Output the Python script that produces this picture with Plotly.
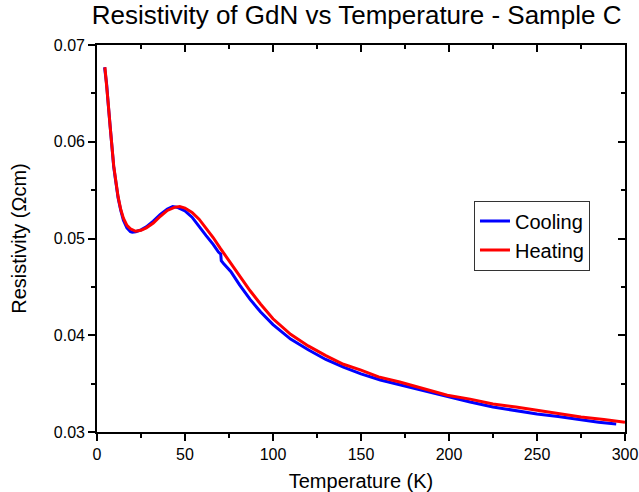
import plotly.graph_objects as go

# Cooling series (blue)
cool_T = [4.3, 5.5, 6.5, 7.5, 8.5, 9.5, 10.5, 12, 13.5, 15, 17, 19, 20, 22, 25, 28, 32, 36, 40, 43,
          46, 50, 54, 58, 62, 66, 69, 70.3, 70.6, 72, 76, 81, 87, 93, 100, 110, 120, 130, 140, 150,
          161, 172, 185, 199, 212, 225, 238, 250, 262, 275, 285, 295]
cool_R = [0.0677, 0.0659, 0.0636, 0.0613, 0.0590, 0.0574, 0.0561, 0.0542, 0.0529, 0.0519, 0.0511,
          0.0507, 0.05065, 0.0507, 0.0509, 0.0512, 0.0518, 0.0525, 0.05305, 0.0533,
          0.0532, 0.05285, 0.0522, 0.0512, 0.0503, 0.0494, 0.0486, 0.0484, 0.0477, 0.0474,
          0.0466, 0.0452, 0.0437, 0.0424, 0.0411, 0.0396, 0.0385, 0.0375, 0.0367, 0.0360,
          0.03537, 0.03488, 0.0343, 0.03362, 0.0331, 0.03258, 0.0322, 0.03187, 0.0316,
          0.03124, 0.0310, 0.03083]

# Heating series (red)
heat_T = [4.5, 5.5, 6.5, 7.5, 8.5, 9.5, 10.5, 12, 13.5, 15, 17, 19, 22, 25, 28, 32, 36, 40, 44, 47,
          50, 54, 58, 62, 66, 70, 75, 81, 87, 93, 100, 110, 120, 130, 140, 150, 160, 172, 185, 199,
          212, 225, 238, 250, 262, 275, 288, 300]
heat_R = [0.0677, 0.0660, 0.0637, 0.0615, 0.0591, 0.0575, 0.0562, 0.0543, 0.0530, 0.0521, 0.05135,
          0.0510, 0.05075, 0.05085, 0.0511, 0.0516, 0.0523, 0.0529, 0.05322, 0.0533,
          0.05315, 0.0527, 0.0520, 0.0511, 0.0501, 0.0490, 0.0477, 0.0461, 0.0446, 0.0432,
          0.0417, 0.0401, 0.0389, 0.0379, 0.0370, 0.0364, 0.0357, 0.03517, 0.0345, 0.0338,
          0.0334, 0.0329, 0.03258, 0.03227, 0.0319, 0.03155, 0.0313, 0.0310]

x_range = [0, 300]
y_range = [0.03, 0.07]
x_ticks = [0, 50, 100, 150, 200, 250, 300]
y_ticks = [0.03, 0.04, 0.05, 0.06, 0.07]

FONT = "Arial, Liberation Sans, sans-serif"

fig = go.Figure()
fig.add_trace(go.Scatter(x=cool_T, y=cool_R, mode="lines", name="Cooling",
                         line=dict(color="#0000FF", width=3)))
fig.add_trace(go.Scatter(x=heat_T, y=heat_R, mode="lines", name="Heating",
                         line=dict(color="#FF0000", width=3)))
# invisible trace to anchor mirror axes
fig.add_trace(go.Scatter(x=[x_range[0]], y=[y_range[0]], xaxis="x2", yaxis="y2",
                         mode="markers", marker=dict(opacity=0), showlegend=False,
                         hoverinfo="skip"))

axis_common = dict(showline=True, linecolor="black", linewidth=1.6, showgrid=False,
                   zeroline=False, tickcolor="black", tickwidth=1.6, automargin=False,
                   tickfont=dict(family=FONT, size=16, color="black"))

fig.update_layout(
    width=639, height=492,
    margin=dict(l=97, r=14, t=45, b=60, autoexpand=False),
    paper_bgcolor="white", plot_bgcolor="white",
    font=dict(family=FONT, color="black"),
    title=dict(text="Resistivity of GdN vs Temperature - Sample C",
               font=dict(family=FONT, size=26, color="black"),
               x=0.558, xanchor="center", y=0.988, yanchor="top"),
    xaxis=dict(range=x_range, tickvals=x_ticks, ticks="outside", ticklen=7,
               minor=dict(dtick=25, tick0=0, ticklen=4, ticks="outside", tickcolor="black", tickwidth=1.6),
               title=dict(text="Temperature (K)", font=dict(family=FONT, size=20, color="black"),
                          standoff=12),
               **axis_common),
    yaxis=dict(range=y_range, tickvals=y_ticks, tickformat=".2f", ticks="outside", ticklen=7,
               minor=dict(dtick=0.005, tick0=0.03, ticklen=4, ticks="outside", tickcolor="black", tickwidth=1.6),
               title=dict(text="Resistivity (Ωcm)", font=dict(family=FONT, size=20, color="black"),
                          standoff=22),
               **axis_common),
    xaxis2=dict(range=x_range, overlaying="x", side="top", anchor="y2", tickvals=x_ticks,
                ticks="inside", ticklen=7, showticklabels=False,
                minor=dict(dtick=25, tick0=0, ticklen=4, ticks="inside", tickcolor="black", tickwidth=1.6),
                **axis_common),
    yaxis2=dict(range=y_range, overlaying="y", side="right", anchor="x2", tickvals=y_ticks,
                ticks="inside", ticklen=7, showticklabels=False,
                minor=dict(dtick=0.005, tick0=0.03, ticklen=4, ticks="inside", tickcolor="black", tickwidth=1.6),
                **axis_common),
    legend=dict(x=0.714, y=0.598, xanchor="left", yanchor="top",
                bordercolor="#333333", borderwidth=1, bgcolor="white",
                font=dict(family=FONT, size=20, color="black"),
                tracegroupgap=0),
    showlegend=True,
)

fig.write_html("out.html")
